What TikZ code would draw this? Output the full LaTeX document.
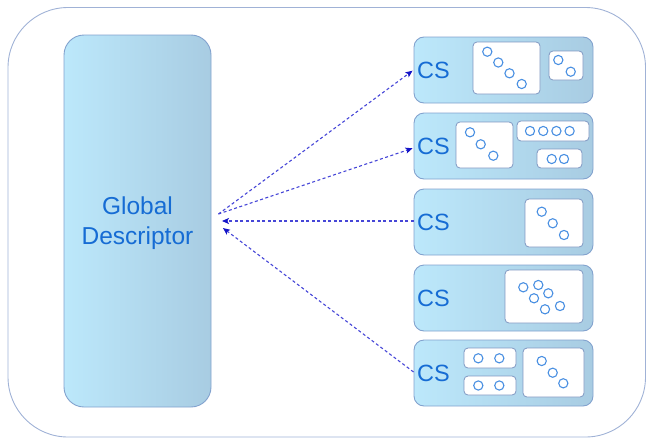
\documentclass[tikz,border=0pt]{standalone}
\usepackage{fontspec}
\setmainfont{Liberation Sans}
\usetikzlibrary{arrows.meta}
\definecolor{txtblue}{RGB}{22,108,212}
\definecolor{boxleft}{RGB}{188,232,251}
\definecolor{boxright}{RGB}{168,204,226}
\definecolor{boxborder}{RGB}{130,162,206}
\definecolor{outerborder}{RGB}{160,178,214}
\definecolor{innerborder}{RGB}{128,152,194}
\definecolor{circblue}{RGB}{74,144,226}
\definecolor{arrowblue}{RGB}{70,70,215}
\definecolor{tipblue}{RGB}{20,20,200}
\tikzset{
  outerbox/.style={draw=outerborder, line width=0.9pt, rounded corners=60pt},
  gdbox/.style={draw=boxborder, line width=0.9pt, rounded corners=20pt, left color=boxleft, right color=boxright, minimum width=147pt, minimum height=372pt, inner sep=0pt},
  gdlabel/.style={text=txtblue, font=\fontsize{24.5}{30}\selectfont, align=center, inner sep=0pt},
  csbox/.style={draw=boxborder, line width=0.9pt, rounded corners=10pt, left color=boxleft, right color=boxright, minimum width=179pt, minimum height=66pt, inner sep=0pt},
  cslabel/.style={text=txtblue, font=\fontsize{23.5}{27}\selectfont, inner sep=0pt},
  inbox/.style={draw=innerborder, fill=white, line width=0.8pt, rounded corners=4pt},
  circ/.style={draw=circblue, fill=white, line width=1.1pt},
  conn/.style={draw=arrowblue, line width=1.1pt, dash pattern=on 3pt off 2.5pt, -{Stealth[length=7pt,width=6pt,color=tipblue,inset=1.5pt]}},
}
\begin{document}
\begin{tikzpicture}[x=1pt,y=-1pt]
\useasboundingbox (0,0) rectangle (647,439);
\draw[outerbox] (8,7.5) rectangle (645.5,437);

\node[gdbox] (gd) at (137.5,221) {};
\node[gdlabel] (gdtext) at (137.5,223.5) {Global\\Descriptor};

\node[csbox] (cs1) at (503.5,70) {};
\node[csbox] (cs2) at (503.5,146) {};
\node[csbox] (cs3) at (503.5,222) {};
\node[csbox] (cs4) at (503.5,298) {};
\node[csbox] (cs5) at (503.5,373) {};

\node[cslabel] (l1) at (433.5,70) {CS};
\node[cslabel] (l2) at (433.5,146) {CS};
\node[cslabel] (l3) at (433.5,222) {CS};
\node[cslabel] (l4) at (433.5,298) {CS};
\node[cslabel] (l5) at (433.5,373) {CS};

% row 1
\draw[inbox] (473,42) rectangle (540,94);
\foreach \p in {(487.3,51.7),(498.3,62.5),(509.5,73.3),(521.7,84)} \draw[circ] \p circle (4.6);
\draw[inbox] (549,51) rectangle (583,80);
\foreach \p in {(558.3,60),(570.7,71.7)} \draw[circ] \p circle (4.6);

% row 2
\draw[inbox] (456,122) rectangle (513,168);
\foreach \p in {(470,132.3),(480.7,144.3),(493.3,155.7)} \draw[circ] \p circle (4.6);
\draw[inbox] (517,121) rectangle (589,141);
\foreach \x in {530,543.2,556.4,569.6} \draw[circ] (\x,131) circle (4.6);
\draw[inbox] (537,149) rectangle (582,168);
\foreach \x in {551.7,564} \draw[circ] (\x,159) circle (4.6);

% row 3
\draw[inbox] (525,199) rectangle (583,247);
\foreach \p in {(541.7,211.7),(552.7,223.3),(564,235)} \draw[circ] \p circle (4.6);

% row 4
\draw[inbox] (505,270) rectangle (583,323);
\foreach \p in {(523.3,287.3),(538.3,285),(534,298.3),(548.3,293.3),(545,309.3),(560,306)} \draw[circ] \p circle (4.6);

% row 5
\draw[inbox] (464,348) rectangle (516,368);
\foreach \x in {478.3,499.3} \draw[circ] (\x,358.3) circle (4.6);
\draw[inbox] (464,376) rectangle (516,395);
\foreach \x in {478.3,499.3} \draw[circ] (\x,385.5) circle (4.6);
\draw[inbox] (523,348) rectangle (584,397);
\foreach \p in {(541.7,361),(552.7,372.7),(563.3,383.3)} \draw[circ] \p circle (4.6);

% connectors
\draw[conn] ([shift={(7,-7)}]gd.east) -- ([shift={(-1,0.7)}]cs1.west);
\draw[conn] ([shift={(7,-7)}]gd.east) -- ([shift={(-1,2.3)}]cs2.west);
\draw[conn] ([shift={(0,-1)}]cs3.west) -- ([shift={(10.5,0)}]gd.east);
\draw[conn] ([shift={(0,-1)}]cs5.west) -- ([shift={(11.5,7)}]gd.east);
\end{tikzpicture}
\end{document}
